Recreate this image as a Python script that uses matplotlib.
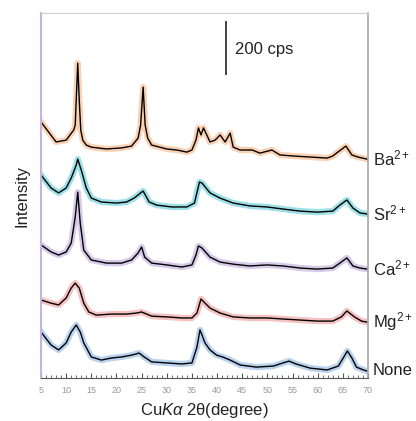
import matplotlib.pyplot as plt
from matplotlib.ticker import MultipleLocator

plt.rcParams['font.family'] = ['Liberation Sans', 'DejaVu Sans']
plt.rcParams['mathtext.fontset'] = 'custom'
plt.rcParams['mathtext.rm'] = 'Liberation Sans'
plt.rcParams['mathtext.it'] = 'Liberation Sans:italic'

# 2theta (degree) and stacked intensity (cps)
ba_x = [5, 8, 10, 11.5, 11.8, 12.0, 12.3, 12.6, 12.9, 13.3, 14, 15, 18, 21, 23, 24.3, 24.8, 25.3,
        25.7, 26.2, 27, 30, 32, 34, 35, 35.8, 36.3, 36.8, 37.3, 38.6, 39.6, 40.6, 41.6, 42.6,
        43.2, 44.6, 47, 48.5, 50.9, 52.5, 55.1, 58.5, 61.9, 63, 64, 65.6, 66.8, 68, 69.8]
ba_y = [985, 908, 915, 954, 973, 1069, 1211, 1069, 954, 915, 896, 888, 881, 885, 892, 923, 973, 1119,
        973, 923, 896, 881, 877, 869, 877, 915, 962, 935, 962, 908, 915, 935, 908, 942,
        888, 877, 877, 865, 877, 858, 854, 850, 846, 854, 869, 892, 858, 850, 842]

sr_x = [5, 7, 8.5, 10, 11, 12, 12.3, 13, 14, 15, 17, 20, 22, 23.5, 25, 25.3, 26.5, 28, 31, 34,
        35.5, 36.5, 37, 38.6, 40.6, 43.2, 46.5, 49.9, 53.1, 56.5, 59.9, 63, 64.4, 65.8, 67,
        68.4, 69.8]
sr_y = [781, 731, 712, 731, 769, 819, 842, 800, 731, 692, 677, 673, 677, 692, 715, 719, 677, 665,
        658, 658, 673, 754, 750, 712, 692, 673, 662, 658, 650, 642, 638, 642, 665, 685, 654,
        635, 631]

ca_x = [5, 7, 8.5, 10, 11, 11.8, 12.3, 12.8, 13.5, 15, 18, 21, 23, 24.3, 25, 25.6, 27, 30, 33,
        35, 35.8, 36.3, 37, 38.6, 40.6, 43.2, 46.5, 49.9, 53.1, 56.5, 59.9, 63, 64.4, 65.8,
        67, 68.4, 69.8]
ca_y = [512, 485, 473, 485, 519, 619, 715, 596, 492, 454, 442, 442, 454, 481, 504, 465, 442, 435,
        427, 435, 473, 508, 500, 465, 446, 438, 431, 435, 431, 423, 419, 423, 442, 462,
        431, 423, 419]

mg_x = [5, 7, 8.5, 10, 11, 11.8, 12.6, 13.5, 14.5, 16, 19, 22, 24, 25, 27, 30, 33, 35, 36,
        36.8, 37.4, 38.6, 40.6, 43.2, 46.5, 49.9, 53.1, 56.5, 59.9, 63, 64.7, 65.8, 67.3,
        68.7, 69.8]
mg_y = [300, 288, 281, 308, 346, 365, 346, 288, 254, 242, 246, 246, 250, 254, 238, 235, 231, 231,
        250, 304, 292, 269, 250, 235, 231, 231, 227, 223, 219, 219, 235, 258, 235, 219, 215]

none_x = [5, 7, 8.5, 10, 11, 12, 12.8, 13.5, 15, 17, 19, 21, 23, 24.5, 25.5, 27, 30, 33, 35, 36,
          36.6, 37.6, 38.6, 39.9, 41.1, 42.6, 44.6, 47.8, 51.2, 53.1, 54.3, 55.7, 58.5, 61.9,
          64.1, 65.2, 65.9, 66.8, 67.7, 69.1, 69.8]
none_y = [177, 127, 108, 135, 177, 204, 177, 135, 81, 69, 77, 81, 88, 96, 81, 62, 58, 54, 58, 119,
          185, 135, 108, 88, 81, 69, 50, 42, 46, 58, 65, 54, 38, 31,
          46, 81, 104, 77, 42, 31, 27]

series = [
    (ba_x, ba_y, '#f7a567', 'Ba$^{2+}$'),
    (sr_x, sr_y, '#3cc3d2', 'Sr$^{2+}$'),
    (ca_x, ca_y, '#b197d2', 'Ca$^{2+}$'),
    (mg_x, mg_y, '#ec8585', 'Mg$^{2+}$'),
    (none_x, none_y, '#74a6dc', 'None'),
]

fig = plt.figure(figsize=(4.16, 4.21), dpi=100)
ax = fig.add_axes([0.0986, 0.1021, 0.786, 0.867])

for xs, ys, col, name in series:
    # coloured raw pattern underneath, black smoothed trace on top
    ax.plot(xs, ys, color=col, lw=4.5, alpha=0.5, solid_joinstyle='round')
    ax.plot(xs, ys, color='black', lw=1.0)
    ax.text(71.0, ys[-1] + 2, name, fontsize=12, va='center', ha='left', color='#222222')

# scale bar
ax.plot([41.8, 41.8], [1169, 1369], color='#333333', lw=1.3)
ax.text(43.6, 1262, '200 cps', fontsize=12, va='center', ha='left', color='#222222')

ax.set_xlim(5, 70)
ax.set_ylim(0, 1404)
ax.set_yticks([])
ax.xaxis.set_major_locator(MultipleLocator(5))
ax.xaxis.set_minor_locator(MultipleLocator(1))
ax.tick_params(axis='x', which='major', direction='in', length=3.5, width=0.8,
               color='#555555', labelsize=6.5, labelcolor='#999999', pad=6)
ax.tick_params(axis='x', which='minor', direction='in', length=2, width=0.6, color='#555555')

ax.spines['left'].set_color('#c9b3dd')
ax.spines['left'].set_linewidth(1.5)
ax.spines['top'].set_color('#d0d0d0')
ax.spines['right'].set_color('#a8a8a8')
ax.spines['right'].set_linewidth(1.2)
ax.spines['bottom'].set_color('#555555')

ax.set_xlabel(r'Cu$K\alpha$ 2θ(degree)', fontsize=12, color='#222222', labelpad=4)
ax.set_ylabel('Intensity', fontsize=12, color='#222222', labelpad=8)

fig.savefig('out.png', dpi=100)
